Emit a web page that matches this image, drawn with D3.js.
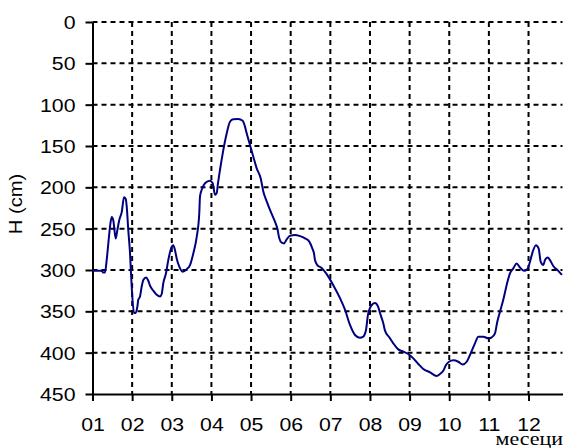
<!DOCTYPE html>
<html><head><meta charset="utf-8">
<script src="https://cdn.jsdelivr.net/npm/d3@7"></script>
<style>body{margin:0;background:#fff}svg{display:block}</style>
</head><body>
<svg id="c" width="567" height="448"></svg>
<script>
const monthLabels = ["01","02","03","04","05","06","07","08","09","10","11","12"];
const yTickValues = [0,50,100,150,200,250,300,350,400,450];
// time in months since 1 January
const t = [0,0.232,0.265,0.315,0.358,0.399,0.441,0.484,0.525,0.585,0.626,0.676,0.737,0.795,0.838,0.863,0.903,0.946,0.971,1.004,1.047,1.085,1.130,1.155,1.198,1.241,1.282,1.350,1.408,1.451,1.534,1.620,1.703,1.746,1.786,1.854,1.912,1.998,2.038,2.081,2.124,2.190,2.275,2.376,2.460,2.543,2.629,2.694,2.712,2.755,2.838,2.964,3.032,3.090,3.133,3.166,3.216,3.300,3.385,3.468,3.552,3.678,3.789,3.847,3.890,3.973,4.057,4.142,4.243,4.309,4.395,4.496,4.604,4.662,4.712,4.773,4.831,4.899,4.982,5.109,5.235,5.361,5.469,5.545,5.588,5.613,5.671,5.757,5.840,5.949,6.092,6.244,6.370,6.496,6.622,6.748,6.823,6.900,6.950,7.051,7.127,7.202,7.253,7.336,7.379,7.487,7.588,7.714,7.841,7.967,8.093,8.219,8.345,8.514,8.683,8.766,8.850,8.918,8.993,9.102,9.228,9.339,9.440,9.541,9.649,9.733,9.859,9.985,10.071,10.154,10.212,10.280,10.363,10.449,10.532,10.616,10.701,10.784,10.885,10.969,11.037,11.105,11.188,11.256,11.307,11.372,11.415,11.483,11.541,11.624,11.751,11.844];
// water level H (cm)
const h = [301,301,303,303,288,268,248,236,240,262,252,239.5,230,212,214,223,252,279,304,332,352,352,345,336,332,320,312,309,313,319,325,330,332,329,316,304,288,272,270,276,286,296,302,299,294,280,260,231,211,203,195,192,195,209,207,195,179,155,135,120.6,117.7,117.3,119.4,126.6,134.7,148.8,163,177,189,205,217,229.5,241.6,249.6,261.7,267,267.8,263,258.5,257.7,259,261.7,265.7,273.8,280,288,294,296.8,300.8,308,320,334,348,366.5,378.6,382,381,372.6,354,342,340,344,352,364.5,373.4,381.4,388.7,396,398.8,401.6,406.9,413.7,419.7,423.8,428.2,425.8,421.8,415,411,409.3,411,414.2,411,400.8,388.7,380.6,380.6,382.7,381.4,376.6,362.5,350.4,336,318,304,298,292,297,301,299,290,278,270,274,290,294,288,285,288,295.2,301,306];
const yLabel = "H (cm)";
const xLabel = "месеци";

const svg = d3.select("#c");
const x = d3.scaleLinear().domain([0, 11.857]).range([92.5, 562.5]);
const y = d3.scaleLinear().domain([0, 450]).range([22, 394]);
const font = "'Liberation Sans', Arial, sans-serif";

// grid
svg.append("g").selectAll("line").data(yTickValues.slice(0, -1)).join("line")
  .attr("x1", x(0)).attr("x2", x.range()[1]).attr("y1", d => y(d)).attr("y2", d => y(d))
  .attr("stroke", "#000").attr("stroke-width", 2).attr("stroke-dasharray", "5,4");
svg.append("g").selectAll("line").data(d3.range(1, 12)).join("line")
  .attr("x1", d => x(d)).attr("x2", d => x(d)).attr("y1", y(0)).attr("y2", y(450))
  .attr("stroke", "#000").attr("stroke-width", 2).attr("stroke-dasharray", "5,4");

// axes
const yAxis = svg.append("g").attr("transform", `translate(${x(0)},0)`)
  .call(d3.axisLeft(y).tickValues(yTickValues).tickSize(7).tickSizeOuter(0));
const xAxis = svg.append("g").attr("transform", `translate(0,${y(450)})`)
  .call(d3.axisBottom(x).tickValues(d3.range(0, 12)).tickFormat(i => monthLabels[i]).tickSize(7).tickSizeOuter(0));
[yAxis, xAxis].forEach(a => {
  a.select(".domain").attr("stroke", "#000").attr("stroke-width", 2);
  a.selectAll(".tick line").attr("stroke", "#000").attr("stroke-width", 2);
});
yAxis.selectAll(".tick text")
  .attr("x", null).attr("dy", "0.35em")
  .attr("transform", "translate(-17,0) scale(1.12,1)")
  .style("font-family", font).style("font-size", "19px").attr("fill", "#000");
xAxis.selectAll(".tick text")
  .attr("y", null).attr("dy", null)
  .attr("transform", "translate(0,37) scale(1.12,1)")
  .style("font-family", font).style("font-size", "19px").attr("fill", "#000");

// line
svg.append("path").datum(t.map((d, i) => [d, h[i]]))
  .attr("fill", "none").attr("stroke", "#000080").attr("stroke-width", 2)
  .attr("stroke-linejoin", "round")
  .attr("d", d3.line().x(d => x(d[0])).y(d => y(d[1])).curve(d3.curveMonotoneX));

// labels
svg.append("text").attr("text-anchor", "middle")
  .attr("transform", "translate(22,204) rotate(-90) scale(1.12,1)")
  .style("font-family", font).style("font-size", "18px").text(yLabel);
svg.append("text").attr("text-anchor", "end")
  .attr("transform", "translate(563,445) scale(1.22,1)")
  .style("font-family", "'Liberation Serif', 'Times New Roman', serif").style("font-size", "18px").text(xLabel);
</script>
</body></html>
